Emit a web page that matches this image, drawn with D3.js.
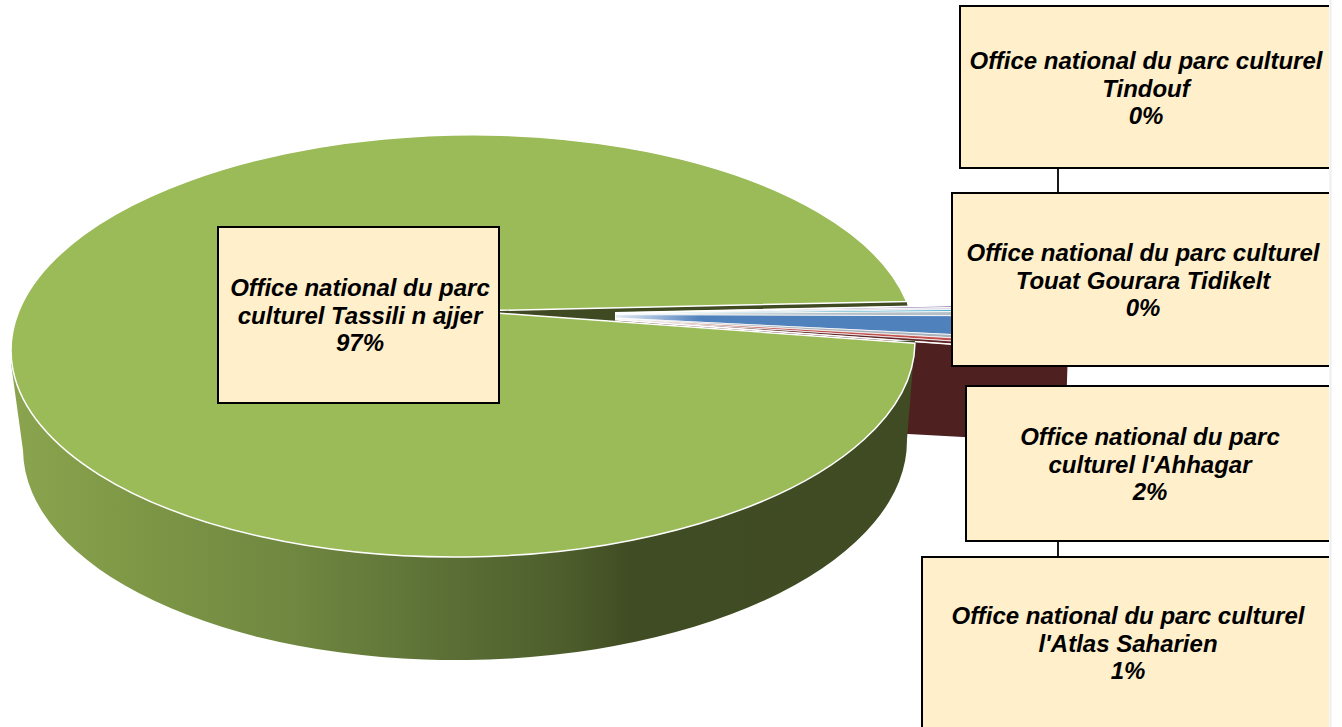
<!DOCTYPE html>
<html><head><meta charset="utf-8">
<script src="https://cdnjs.cloudflare.com/ajax/libs/d3/7.8.5/d3.min.js"></script>
<style>html,body{margin:0;padding:0;background:#fff;overflow:hidden}svg{display:block}</style>
</head><body><div id="c"></div>
<script>
// ---- data ----
const sliceNames = ["Autre 1","Office national du parc culturel Tindouf","Autre 2","Office national du parc culturel Touat Gourara Tidikelt","Office national du parc culturel l'Atlas Saharien","Autre 3","Autre 4","Office national du parc culturel l'Ahhagar","Office national du parc culturel Tassili n ajjer"];
const sliceValues = [0.17,0.17,0.17,0.34,1.56,0.27,0.26,0.26,96.8];
const sliceColors = ["#8064a2","#dcd8e6","#4bacc6","#b4bfc7","#4f81bd","#a9b3bc","#c0504d","#5e2527","#9bbb59"];
const labelLines = [
  ["Office national du parc culturel","Tindouf","0%"],
  ["Office national du parc culturel","Touat Gourara Tidikelt","0%"],
  ["Office national du parc","culturel l'Ahhagar","2%"],
  ["Office national du parc culturel","l'Atlas Saharien","1%"],
  ["Office national du parc","culturel Tassili n ajjer","97%"]
];
// ---- layout ----
const W=1342,H=727;
const labelBoxes=[[960,6,1340,168],[952,193,1340,366],[966,386,1340,541],[922,557,1340,740],[218,227,499,403]];
const textCx=[1146,1143,1150,1128,360], textCy=[88,280,464,643,315];
const leaders=[[1058,168,193],[1058,541,557]];
const tilt=-0.7;
const topE={cx:463,cy:346,rx:452,ry:211};
const botE={cx:465,cy:445,rx:442,ry:215};
const squash=0.467;
const apexMain=[470,311], apexSmall=[542,314.5];
const smallEllipse={cx:616,cy:354,rx:452,ry:211};
const startA=Math.PI/2-2.7*Math.PI/180;
const rad=tilt*Math.PI/180, cs=Math.cos(rad), sn=Math.sin(rad);

const pie=d3.pie().sort(null).value(d=>d).startAngle(startA).endAngle(startA+2*Math.PI);
const arcs=pie(sliceValues);
function hit(P,a,e){
  const wx=Math.sin(a),wy=-Math.cos(a)*squash;
  const px=P[0]-e.cx,py=P[1]-e.cy;
  const ox=(px*cs+py*sn)/e.rx,oy=(-px*sn+py*cs)/e.ry;
  const ux=(wx*cs+wy*sn)/e.rx,uy=(-wx*sn+wy*cs)/e.ry;
  const A=ux*ux+uy*uy,B=2*(ox*ux+oy*uy),C=ox*ox+oy*oy-1;
  const t=(-B+Math.sqrt(B*B-4*A*C))/(2*A);
  return [P[0]+t*wx,P[1]+t*wy];
}
const endPt=(e,s)=>[e.cx+s*e.rx*cs,e.cy+s*e.rx*sn];
const svg=d3.select("#c").append("svg").attr("width",W).attr("height",H);
const defs=svg.append("defs");
const g=defs.append("linearGradient").attr("id","wall").attr("gradientUnits","userSpaceOnUse")
  .attr("x1",0).attr("x2",W).attr("y1",0).attr("y2",0);
[[0.0,"#8ba54f"],[0.09,"#7f9947"],[0.22,"#6f8740"],[0.33,"#5c7036"],[0.42,"#4d5e2c"],[0.47,"#404c23"],[1,"#3f4a22"]]
  .forEach(s=>g.append("stop").attr("offset",s[0]).attr("stop-color",s[1]));
const fade=defs.append("linearGradient").attr("id","fade").attr("gradientUnits","userSpaceOnUse")
  .attr("x1",615).attr("x2",700).attr("y1",0).attr("y2",0);
[[0,0.85],[1,0]].forEach(s=>fade.append("stop").attr("offset",s[0]).attr("stop-color","#fff").attr("stop-opacity",s[1]));
defs.append("clipPath").attr("id","smallClip").append("rect").attr("x",615).attr("y",0).attr("width",W).attr("height",H);
defs.append("clipPath").attr("id","boxClip").append("rect").attr("x",0).attr("y",0).attr("width",1329).attr("height",H);

const green=arcs[arcs.length-1];
const small=arcs.slice(0,-1);
const lastArc=small[small.length-1];
const blueArc=small[4];
const lineAt=(p,x)=>[x,apexSmall[1]+(x-apexSmall[0])*(p[1]-apexSmall[1])/(p[0]-apexSmall[0])];

// dark cut face seen in the gap of the main slice
const pLow=hit(apexMain,green.startAngle,topE), pUp=hit(apexMain,green.endAngle,topE);
svg.append("path").attr("fill","#3f4a22").attr("d",`M${apexMain}L${pUp}L${pLow}Z`);

// exploded group: wall of the last slice, then top faces
const gs=svg.append("g").attr("clip-path","url(#smallClip)");
const redOuter=hit(apexSmall,lastArc.endAngle,smallEllipse);
const redIn=lineAt(redOuter,615);
gs.append("path").attr("fill","#4f2020")
  .attr("d",`M${redIn}L${redOuter}L${redOuter[0]-3},${redOuter[1]+90}L${redIn[0]},${redIn[1]+98}Z`);
gs.selectAll("path.s").data(small).join("path").attr("class","s")
  .attr("fill",(d,i)=>sliceColors[i]).attr("stroke","#fff").attr("stroke-width",0.8)
  .attr("d",d=>{const a=hit(apexSmall,d.startAngle,smallEllipse),b=hit(apexSmall,d.endAngle,smallEllipse);
    return `M${apexSmall}L${a}A${smallEllipse.rx},${smallEllipse.ry} ${tilt} 0 1 ${b}Z`;});
// the narrow inner part of the upper slices washes out towards the apex
const sTop=hit(apexSmall,small[0].startAngle,smallEllipse);
const blueEnd=hit(apexSmall,small[5].endAngle,smallEllipse);
gs.append("path").attr("fill","url(#fade)").attr("d",`M${apexSmall}L${sTop}L${blueEnd}Z`);
gs.append("path").attr("fill","none").attr("stroke","#fff").attr("stroke-width",1.6)
  .attr("d",`M${sTop}L${lineAt(sTop,615)}L${redIn}L${redOuter}`);

// main slice wall and top
const tl=endPt(topE,-1), tr=endPt(topE,1), bl=endPt(botE,-1), br=endPt(botE,1);
svg.append("path").attr("fill","url(#wall)")
  .attr("d",`M${tl[0]},${tl[1]+12}L${bl}A${botE.rx},${botE.ry} ${tilt} 0 0 ${br}L${tr}Z`);
svg.append("path").datum(green).attr("fill",sliceColors[sliceColors.length-1]).attr("stroke","#fff").attr("stroke-width",1.5)
  .attr("stroke-linejoin","round")
  .attr("d",`M${apexMain}L${pLow}A${topE.rx},${topE.ry} ${tilt} 1 1 ${pUp}Z`);

// labels
const lg=svg.append("g").attr("clip-path","url(#boxClip)");
lg.selectAll("line").data(leaders).join("line").attr("x1",d=>d[0]).attr("x2",d=>d[0]).attr("y1",d=>d[1]).attr("y2",d=>d[2])
  .attr("stroke","#000").attr("stroke-width",1.8);
lg.selectAll("rect").data(labelBoxes).join("rect")
  .attr("x",d=>d[0]).attr("y",d=>d[1]).attr("width",d=>d[2]-d[0]).attr("height",d=>d[3]-d[1])
  .attr("fill","#ffefcb").attr("stroke","#000").attr("stroke-width",2);
svg.append("line").attr("x1",1330.5).attr("x2",1330.5).attr("y1",0).attr("y2",H).attr("stroke","#eceef0").attr("stroke-width",2);
const tg=svg.selectAll("text.l").data(labelLines).join("text").attr("class","l")
  .attr("text-anchor","middle").attr("font-family","'Liberation Sans',Arial,sans-serif")
  .attr("font-weight","bold").attr("font-style","italic").attr("font-size",24).attr("fill","#000");
tg.each(function(d,i){
  d3.select(this).selectAll("tspan").data(d).join("tspan")
    .attr("x",textCx[i]).attr("y",(s,j)=>textCy[i]+(j-1)*27.8+8.5).text(s=>s);
});
</script></body></html>
